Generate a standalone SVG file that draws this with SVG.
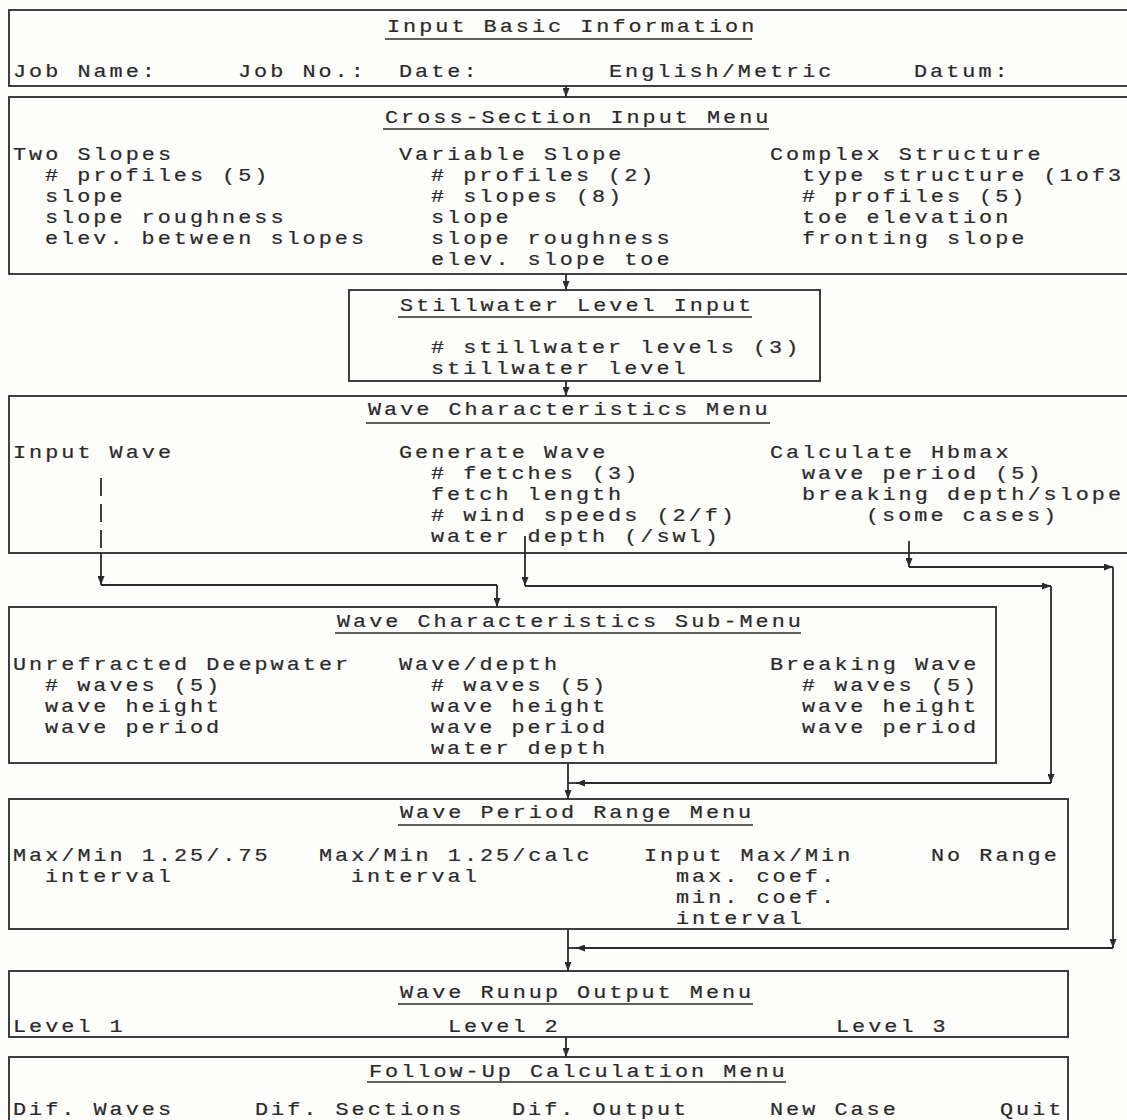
<svg xmlns="http://www.w3.org/2000/svg" width="1127" height="1120" viewBox="0 0 1127 1120">
<style>
.bg{fill:#fdfdfb}
.box{fill:none;stroke:#2b2b2b;stroke-width:1.8}
.t{font-family:"Liberation Mono","DejaVu Sans Mono",monospace;font-size:18.5px;letter-spacing:2.54px;fill:#2a2a2a;stroke:#2a2a2a;stroke-width:0.2}
.u{stroke:#2b2b2b;stroke-width:1.6}
.c{fill:none;stroke:#2b2b2b;stroke-width:1.8}
.d{stroke-dasharray:18 8}
</style>
<defs>
<marker id="ah" viewBox="0 0 9 7" refX="9" refY="3.5" markerWidth="9" markerHeight="7" markerUnits="userSpaceOnUse" orient="auto"><path d="M0,0 L9,3.5 L0,7 z" fill="#2b2b2b"/></marker>
</defs>
<rect class="bg" x="0" y="0" width="1127" height="1120"/>

<g id="input-basic-information">
<rect class="box" x="9" y="10" width="1140" height="76"/>
<text class="t" x="387" y="32" textLength="370.3" lengthAdjust="spacingAndGlyphs">Input Basic Information</text>
<line class="u" x1="385" y1="39" x2="752" y2="39"/>
<text class="t" x="13" y="77" textLength="144.9" lengthAdjust="spacingAndGlyphs">Job Name:</text>
<text class="t" x="238" y="77" textLength="128.8" lengthAdjust="spacingAndGlyphs">Job No.:</text>
<text class="t" x="399" y="77" textLength="80.5" lengthAdjust="spacingAndGlyphs">Date:</text>
<text class="t" x="609" y="77" textLength="225.4" lengthAdjust="spacingAndGlyphs">English/Metric</text>
<text class="t" x="914" y="77" textLength="96.6" lengthAdjust="spacingAndGlyphs">Datum:</text>
</g>

<g id="cross-section-input-menu">
<rect class="box" x="9" y="97" width="1140" height="177"/>
<text class="t" x="385" y="123" textLength="386.4" lengthAdjust="spacingAndGlyphs">Cross-Section Input Menu</text>
<line class="u" x1="383" y1="129" x2="769" y2="129"/>
<text class="t" x="13" y="160" textLength="161" lengthAdjust="spacingAndGlyphs">Two Slopes</text>
<text class="t" x="45" y="181" textLength="225.4" lengthAdjust="spacingAndGlyphs"># profiles (5)</text>
<text class="t" x="45" y="202" textLength="80.5" lengthAdjust="spacingAndGlyphs">slope</text>
<text class="t" x="45" y="223" textLength="241.5" lengthAdjust="spacingAndGlyphs">slope roughness</text>
<text class="t" x="45" y="244" textLength="322" lengthAdjust="spacingAndGlyphs">elev. between slopes</text>
<text class="t" x="399" y="160" textLength="225.4" lengthAdjust="spacingAndGlyphs">Variable Slope</text>
<text class="t" x="431" y="181" textLength="225.4" lengthAdjust="spacingAndGlyphs"># profiles (2)</text>
<text class="t" x="431" y="202" textLength="193.2" lengthAdjust="spacingAndGlyphs"># slopes (8)</text>
<text class="t" x="431" y="223" textLength="80.5" lengthAdjust="spacingAndGlyphs">slope</text>
<text class="t" x="431" y="244" textLength="241.5" lengthAdjust="spacingAndGlyphs">slope roughness</text>
<text class="t" x="431" y="265" textLength="241.5" lengthAdjust="spacingAndGlyphs">elev. slope toe</text>
<text class="t" x="770" y="160" textLength="273.7" lengthAdjust="spacingAndGlyphs">Complex Structure</text>
<text class="t" x="802" y="181" textLength="322" lengthAdjust="spacingAndGlyphs">type structure (1of3</text>
<text class="t" x="802" y="202" textLength="225.4" lengthAdjust="spacingAndGlyphs"># profiles (5)</text>
<text class="t" x="802" y="223" textLength="209.3" lengthAdjust="spacingAndGlyphs">toe elevation</text>
<text class="t" x="802" y="244" textLength="225.4" lengthAdjust="spacingAndGlyphs">fronting slope</text>
</g>

<g id="stillwater-level-input">
<rect class="box" x="349" y="290" width="471" height="91"/>
<text class="t" x="400" y="311" textLength="354.2" lengthAdjust="spacingAndGlyphs">Stillwater Level Input</text>
<line class="u" x1="398" y1="317" x2="752" y2="317"/>
<text class="t" x="431" y="353" textLength="370.3" lengthAdjust="spacingAndGlyphs"># stillwater levels (3)</text>
<text class="t" x="431" y="374" textLength="257.6" lengthAdjust="spacingAndGlyphs">stillwater level</text>
</g>

<g id="wave-characteristics-menu">
<rect class="box" x="9" y="396" width="1140" height="157"/>
<text class="t" x="368" y="415" textLength="402.5" lengthAdjust="spacingAndGlyphs">Wave Characteristics Menu</text>
<line class="u" x1="366" y1="423" x2="770" y2="423"/>
<text class="t" x="13" y="458" textLength="161" lengthAdjust="spacingAndGlyphs">Input Wave</text>
<text class="t" x="399" y="458" textLength="209.3" lengthAdjust="spacingAndGlyphs">Generate Wave</text>
<text class="t" x="431" y="479" textLength="209.3" lengthAdjust="spacingAndGlyphs"># fetches (3)</text>
<text class="t" x="431" y="500" textLength="193.2" lengthAdjust="spacingAndGlyphs">fetch length</text>
<text class="t" x="431" y="521" textLength="305.9" lengthAdjust="spacingAndGlyphs"># wind speeds (2/f)</text>
<text class="t" x="431" y="542" textLength="289.8" lengthAdjust="spacingAndGlyphs">water depth (/swl)</text>
<text class="t" x="770" y="458" textLength="241.5" lengthAdjust="spacingAndGlyphs">Calculate Hbmax</text>
<text class="t" x="802" y="479" textLength="241.5" lengthAdjust="spacingAndGlyphs">wave period (5)</text>
<text class="t" x="802" y="500" textLength="322" lengthAdjust="spacingAndGlyphs">breaking depth/slope</text>
<text class="t" x="866" y="521" textLength="193.2" lengthAdjust="spacingAndGlyphs">(some cases)</text>
</g>

<g id="wave-characteristics-sub-menu">
<rect class="box" x="9" y="607" width="987" height="156"/>
<text class="t" x="337" y="627" textLength="466.9" lengthAdjust="spacingAndGlyphs">Wave Characteristics Sub-Menu</text>
<line class="u" x1="335" y1="633" x2="801" y2="633"/>
<text class="t" x="13" y="670" textLength="338.1" lengthAdjust="spacingAndGlyphs">Unrefracted Deepwater</text>
<text class="t" x="45" y="691" textLength="177.1" lengthAdjust="spacingAndGlyphs"># waves (5)</text>
<text class="t" x="45" y="712" textLength="177.1" lengthAdjust="spacingAndGlyphs">wave height</text>
<text class="t" x="45" y="733" textLength="177.1" lengthAdjust="spacingAndGlyphs">wave period</text>
<text class="t" x="399" y="670" textLength="161" lengthAdjust="spacingAndGlyphs">Wave/depth</text>
<text class="t" x="431" y="691" textLength="177.1" lengthAdjust="spacingAndGlyphs"># waves (5)</text>
<text class="t" x="431" y="712" textLength="177.1" lengthAdjust="spacingAndGlyphs">wave height</text>
<text class="t" x="431" y="733" textLength="177.1" lengthAdjust="spacingAndGlyphs">wave period</text>
<text class="t" x="431" y="754" textLength="177.1" lengthAdjust="spacingAndGlyphs">water depth</text>
<text class="t" x="770" y="670" textLength="209.3" lengthAdjust="spacingAndGlyphs">Breaking Wave</text>
<text class="t" x="802" y="691" textLength="177.1" lengthAdjust="spacingAndGlyphs"># waves (5)</text>
<text class="t" x="802" y="712" textLength="177.1" lengthAdjust="spacingAndGlyphs">wave height</text>
<text class="t" x="802" y="733" textLength="177.1" lengthAdjust="spacingAndGlyphs">wave period</text>
</g>

<g id="wave-period-range-menu">
<rect class="box" x="9" y="799" width="1059" height="130"/>
<text class="t" x="400" y="818" textLength="354.2" lengthAdjust="spacingAndGlyphs">Wave Period Range Menu</text>
<line class="u" x1="398" y1="825" x2="753" y2="825"/>
<text class="t" x="13" y="861" textLength="257.6" lengthAdjust="spacingAndGlyphs">Max/Min 1.25/.75</text>
<text class="t" x="45" y="882" textLength="128.8" lengthAdjust="spacingAndGlyphs">interval</text>
<text class="t" x="319" y="861" textLength="273.7" lengthAdjust="spacingAndGlyphs">Max/Min 1.25/calc</text>
<text class="t" x="351" y="882" textLength="128.8" lengthAdjust="spacingAndGlyphs">interval</text>
<text class="t" x="644" y="861" textLength="209.3" lengthAdjust="spacingAndGlyphs">Input Max/Min</text>
<text class="t" x="676" y="882" textLength="161" lengthAdjust="spacingAndGlyphs">max. coef.</text>
<text class="t" x="676" y="903" textLength="161" lengthAdjust="spacingAndGlyphs">min. coef.</text>
<text class="t" x="676" y="924" textLength="128.8" lengthAdjust="spacingAndGlyphs">interval</text>
<text class="t" x="931" y="861" textLength="128.8" lengthAdjust="spacingAndGlyphs">No Range</text>
</g>

<g id="wave-runup-output-menu">
<rect class="box" x="9" y="971" width="1059" height="66"/>
<text class="t" x="400" y="998" textLength="354.2" lengthAdjust="spacingAndGlyphs">Wave Runup Output Menu</text>
<line class="u" x1="398" y1="1004" x2="753" y2="1004"/>
<text class="t" x="13" y="1032" textLength="112.7" lengthAdjust="spacingAndGlyphs">Level 1</text>
<text class="t" x="448" y="1032" textLength="112.7" lengthAdjust="spacingAndGlyphs">Level 2</text>
<text class="t" x="836" y="1032" textLength="112.7" lengthAdjust="spacingAndGlyphs">Level 3</text>
</g>

<g id="follow-up-calculation-menu">
<rect class="box" x="9" y="1057" width="1059" height="80"/>
<text class="t" x="369" y="1077" textLength="418.6" lengthAdjust="spacingAndGlyphs">Follow-Up Calculation Menu</text>
<line class="u" x1="367" y1="1082" x2="786" y2="1082"/>
<text class="t" x="13" y="1115" textLength="161" lengthAdjust="spacingAndGlyphs">Dif. Waves</text>
<text class="t" x="255" y="1115" textLength="209.3" lengthAdjust="spacingAndGlyphs">Dif. Sections</text>
<text class="t" x="512" y="1115" textLength="177.1" lengthAdjust="spacingAndGlyphs">Dif. Output</text>
<text class="t" x="770" y="1115" textLength="128.8" lengthAdjust="spacingAndGlyphs">New Case</text>
<text class="t" x="1000" y="1115" textLength="64.4" lengthAdjust="spacingAndGlyphs">Quit</text>
</g>

<g id="connectors">
<line class="c" x1="566" y1="86" x2="566" y2="97" marker-end="url(#ah)"/>
<line class="c" x1="566" y1="274" x2="566" y2="290" marker-end="url(#ah)"/>
<line class="c" x1="566" y1="381" x2="566" y2="396" marker-end="url(#ah)"/>
<line class="c d" x1="101" y1="478" x2="101" y2="553"/>
<line class="c" x1="101" y1="553" x2="101" y2="585" marker-end="url(#ah)"/>
<line class="c" x1="101" y1="585" x2="497" y2="585"/>
<line class="c" x1="497" y1="585" x2="497" y2="607" marker-end="url(#ah)"/>
<line class="c" x1="525" y1="536" x2="525" y2="586" marker-end="url(#ah)"/>
<line class="c" x1="525" y1="586" x2="1051" y2="586" marker-end="url(#ah)"/>
<line class="c" x1="1051" y1="586" x2="1051" y2="783" marker-end="url(#ah)"/>
<line class="c" x1="1051" y1="783" x2="576" y2="783" marker-end="url(#ah)"/>
<line class="c" x1="576" y1="783" x2="568" y2="783"/>
<line class="c" x1="909" y1="541" x2="909" y2="567" marker-end="url(#ah)"/>
<line class="c" x1="909" y1="567" x2="1113" y2="567" marker-end="url(#ah)"/>
<line class="c" x1="1113" y1="567" x2="1113" y2="948" marker-end="url(#ah)"/>
<line class="c" x1="1113" y1="948" x2="576" y2="948" marker-end="url(#ah)"/>
<line class="c" x1="576" y1="948" x2="568" y2="948"/>
<line class="c" x1="568" y1="763" x2="568" y2="799" marker-end="url(#ah)"/>
<line class="c" x1="568" y1="929" x2="568" y2="971" marker-end="url(#ah)"/>
<line class="c" x1="566" y1="1037" x2="566" y2="1057" marker-end="url(#ah)"/>
</g>
</svg>
